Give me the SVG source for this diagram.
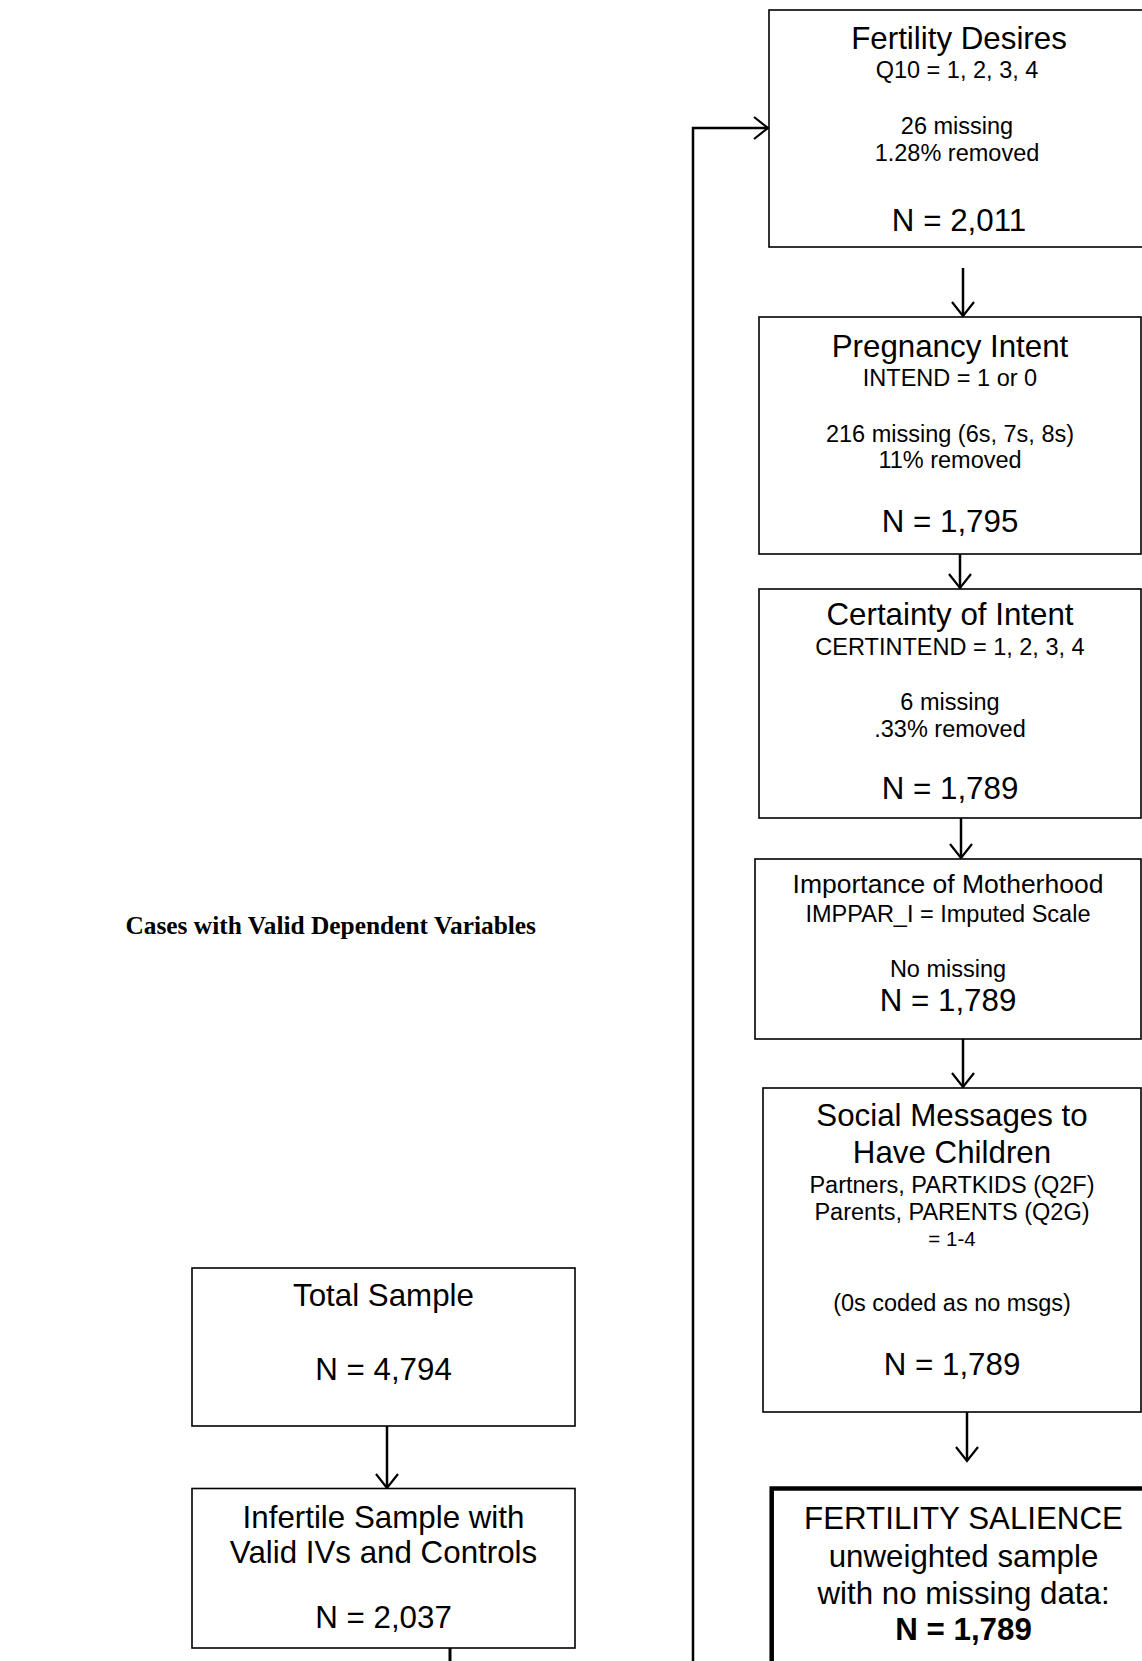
<svg xmlns="http://www.w3.org/2000/svg" width="1142" height="1661" viewBox="0 0 1142 1661">
  <style>
    .box { fill: #ffffff; stroke: #000000; stroke-width: 1.6; }
    .box-final { fill: #ffffff; stroke: #000000; stroke-width: 4.5; }
    .wire { fill: none; stroke: #000000; stroke-width: 2.5; }
    .t { font-family: "Liberation Sans", Arial, sans-serif; fill: #000000; text-anchor: middle; }
    .big { font-size: 31.3px; }
    .mid { font-size: 26.5px; }
    .small { font-size: 23.5px; }
    .tiny { font-size: 20.5px; }
    .bold { font-weight: bold; }
    .heading { font-family: "Liberation Serif", "Times New Roman", serif; font-weight: bold; font-size: 25.4px; fill: #000000; }
  </style>
  <defs>
    <marker id="head" viewBox="-16 -13 18 26" refX="0" refY="0" markerWidth="18" markerHeight="26" markerUnits="userSpaceOnUse" orient="auto">
      <path d="M-14,-11 L0,0 L-14,11" fill="none" stroke="#000000" stroke-width="2.2"/>
    </marker>
  </defs>

  <rect width="1142" height="1661" fill="#ffffff"/>

  <!-- section heading -->
  <text class="heading" x="536" y="934" text-anchor="end">Cases with Valid Dependent Variables</text>

  <!-- connectors -->
  <g id="connectors">
    <path class="wire" d="M693,1661 V128 H768" marker-end="url(#head)"/>
    <path class="wire" d="M963,268 V316" marker-end="url(#head)"/>
    <path class="wire" d="M960,554 V588" marker-end="url(#head)"/>
    <path class="wire" d="M961,818 V858" marker-end="url(#head)"/>
    <path class="wire" d="M963,1039 V1087" marker-end="url(#head)"/>
    <path class="wire" d="M967,1412 V1461" marker-end="url(#head)"/>
    <path class="wire" d="M387,1426 V1488" marker-end="url(#head)"/>
    <path class="wire" d="M450,1648 V1661" style="stroke-width:3"/>
  </g>

  <g id="fertility-desires">
    <rect class="box" x="769" y="10" width="380" height="237"/>
    <text class="t big" x="959" y="49">Fertility Desires</text>
    <text class="t small" x="957" y="78">Q10 = 1, 2, 3, 4</text>
    <text class="t small" x="957" y="134">26 missing</text>
    <text class="t small" x="957" y="161">1.28% removed</text>
    <text class="t big" x="959" y="231">N = 2,011</text>
  </g>

  <g id="pregnancy-intent">
    <rect class="box" x="759" y="317" width="382" height="237"/>
    <text class="t big" x="950" y="357">Pregnancy Intent</text>
    <text class="t small" x="950" y="386">INTEND = 1 or 0</text>
    <text class="t small" x="950" y="442">216 missing (6s, 7s, 8s)</text>
    <text class="t small" x="950" y="468">11% removed</text>
    <text class="t big" x="950" y="532">N = 1,795</text>
  </g>

  <g id="certainty-of-intent">
    <rect class="box" x="759" y="589" width="382" height="229"/>
    <text class="t big" x="950" y="625">Certainty of Intent</text>
    <text class="t small" x="950" y="655">CERTINTEND = 1, 2, 3, 4</text>
    <text class="t small" x="950" y="710">6 missing</text>
    <text class="t small" x="950" y="737">.33% removed</text>
    <text class="t big" x="950" y="799">N = 1,789</text>
  </g>

  <g id="importance-of-motherhood">
    <rect class="box" x="755" y="859" width="386" height="180"/>
    <text class="t mid" x="948" y="893">Importance of Motherhood</text>
    <text class="t small" x="948" y="922">IMPPAR_I = Imputed Scale</text>
    <text class="t small" x="948" y="977">No missing</text>
    <text class="t big" x="948" y="1011">N = 1,789</text>
  </g>

  <g id="social-messages">
    <rect class="box" x="763" y="1088" width="378" height="324"/>
    <text class="t big" x="952" y="1126">Social Messages to</text>
    <text class="t big" x="952" y="1163">Have Children</text>
    <text class="t small" x="952" y="1193">Partners, PARTKIDS (Q2F)</text>
    <text class="t small" x="952" y="1220">Parents, PARENTS (Q2G)</text>
    <text class="t tiny" x="952" y="1246">= 1-4</text>
    <text class="t small" x="952" y="1311">(0s coded as no msgs)</text>
    <text class="t big" x="952" y="1375">N = 1,789</text>
  </g>

  <g id="fertility-salience">
    <rect class="box-final" x="771.7" y="1488.5" width="385" height="200"/>
    <text class="t big" x="963.5" y="1529">FERTILITY SALIENCE</text>
    <text class="t big" x="963.5" y="1567">unweighted sample</text>
    <text class="t big" x="963.5" y="1604">with no missing data:</text>
    <text class="t big bold" x="963.5" y="1640">N = 1,789</text>
  </g>

  <g id="total-sample">
    <rect class="box" x="192" y="1268" width="383" height="158"/>
    <text class="t big" x="383.5" y="1306">Total Sample</text>
    <text class="t big" x="383.5" y="1380">N = 4,794</text>
  </g>

  <g id="infertile-sample">
    <rect class="box" x="192" y="1488.5" width="383" height="159.5"/>
    <text class="t big" x="383.5" y="1528">Infertile Sample with</text>
    <text class="t big" x="383.5" y="1563">Valid IVs and Controls</text>
    <text class="t big" x="383.5" y="1628">N = 2,037</text>
  </g>
</svg>
